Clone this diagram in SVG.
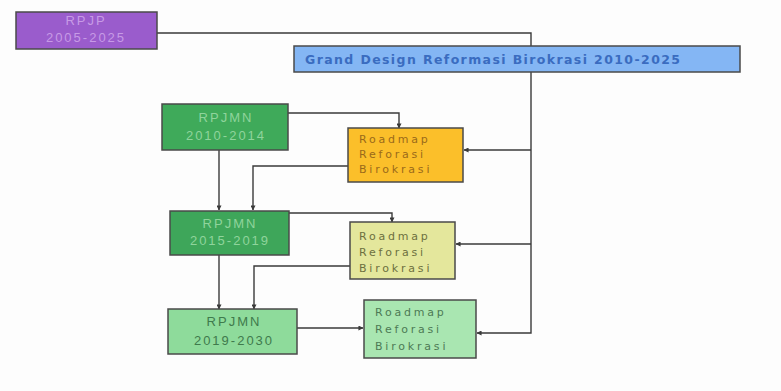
<svg xmlns="http://www.w3.org/2000/svg" width="781" height="391" viewBox="0 0 781 391">
<defs>
<marker id="ah" viewBox="0 0 6 6" refX="5.5" refY="3" markerWidth="5" markerHeight="5" orient="auto" markerUnits="userSpaceOnUse"><path d="M0,0 L6,3 L0,6 z" fill="#3a3a3a"/></marker>
<style>
.box{stroke:#4a4a4a;stroke-width:1.5}
.c{fill:none;stroke:#3a3a3a;stroke-width:1.4}
.t{font-family:"Liberation Sans",Arial,sans-serif;font-size:13px;letter-spacing:2px}
.gd{font-family:"DejaVu Sans",sans-serif;font-size:12.5px;font-weight:bold}
.rm{font-family:"DejaVu Sans",sans-serif;font-size:11px;letter-spacing:2.8px}
</style>
</defs>
<rect width="781" height="391" fill="#fdfdfd"/>
<g id="connectors">
<polyline class="c" points="157,33 531,33 531,46"/>
<polyline class="c" points="531,72 531,333 477,333" marker-end="url(#ah)"/>
<polyline class="c" points="531,150 464,150" marker-end="url(#ah)"/>
<polyline class="c" points="531,244 456,244" marker-end="url(#ah)"/>
<polyline class="c" points="288,113 399,113 399,128" marker-end="url(#ah)"/>
<polyline class="c" points="348,166 253,166 253,210" marker-end="url(#ah)"/>
<polyline class="c" points="219,150 219,210" marker-end="url(#ah)"/>
<polyline class="c" points="289,213 392,213 392,222" marker-end="url(#ah)"/>
<polyline class="c" points="350,266 254,266 254,309" marker-end="url(#ah)"/>
<polyline class="c" points="219,255 219,309" marker-end="url(#ah)"/>
<polyline class="c" points="297,328 363,328" marker-end="url(#ah)"/>
</g>
<g id="rpjp">
<rect class="box" x="16" y="12" width="141" height="37" fill="#9a5ccc"/>
<text class="t" x="86" y="25" text-anchor="middle" fill="#c79ae6">RPJP</text>
<text class="t" x="86" y="42" text-anchor="middle" fill="#c79ae6">2005-2025</text>
</g>
<g id="grand-design">
<rect class="box" x="294" y="46" width="446" height="26" fill="#84b6f4"/>
<text class="gd" x="305" y="64" fill="#3a6cc0" textLength="375" lengthAdjust="spacing">Grand Design Reformasi Birokrasi 2010-2025</text>
</g>
<g id="rpjmn1">
<rect class="box" x="162" y="104" width="126" height="46" fill="#3faa5a"/>
<text class="t" x="226" y="122" text-anchor="middle" fill="#8fd49c">RPJMN</text>
<text class="t" x="226" y="140" text-anchor="middle" fill="#8fd49c">2010-2014</text>
</g>
<g id="roadmap1">
<rect class="box" x="348" y="128" width="115" height="54" fill="#fbbf2a"/>
<text class="rm" x="359" y="143" fill="#9a6a1a">Roadmap</text>
<text class="rm" x="359" y="158" fill="#9a6a1a">Reforasi</text>
<text class="rm" x="359" y="173" fill="#9a6a1a">Birokrasi</text>
</g>
<g id="rpjmn2">
<rect class="box" x="170" y="211" width="119" height="44" fill="#3ea65a"/>
<text class="t" x="230" y="228" text-anchor="middle" fill="#8fd49c">RPJMN</text>
<text class="t" x="230" y="245" text-anchor="middle" fill="#8fd49c">2015-2019</text>
</g>
<g id="roadmap2">
<rect class="box" x="350" y="222" width="105" height="57" fill="#e4e79c"/>
<text class="rm" x="359" y="240" fill="#6d7040">Roadmap</text>
<text class="rm" x="359" y="256" fill="#6d7040">Reforasi</text>
<text class="rm" x="359" y="272" fill="#6d7040">Birokrasi</text>
</g>
<g id="rpjmn3">
<rect class="box" x="168" y="309" width="129" height="45" fill="#8edb9b"/>
<text class="t" x="234" y="326" text-anchor="middle" fill="#3f7a4c">RPJMN</text>
<text class="t" x="234" y="345" text-anchor="middle" fill="#3f7a4c">2019-2030</text>
</g>
<g id="roadmap3">
<rect class="box" x="364" y="300" width="112" height="58" fill="#a9e6b1"/>
<text class="rm" x="375" y="316" fill="#4d7a55">Roadmap</text>
<text class="rm" x="375" y="333" fill="#4d7a55">Reforasi</text>
<text class="rm" x="375" y="350" fill="#4d7a55">Birokrasi</text>
</g>
</svg>
